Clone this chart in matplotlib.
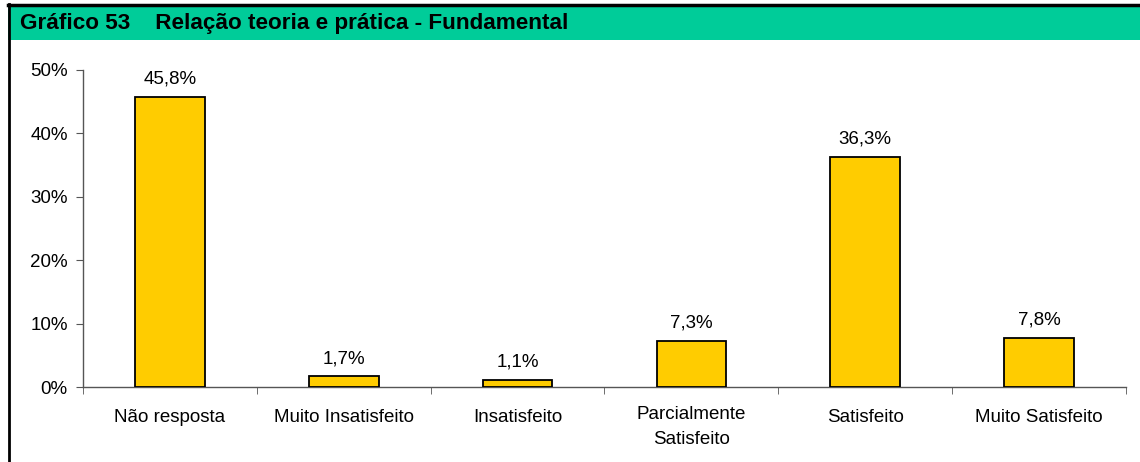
import matplotlib
matplotlib.use("Agg")
import matplotlib.pyplot as plt
import matplotlib.transforms as mtransforms
from matplotlib.patches import Rectangle
from matplotlib.lines import Line2D

categories = ["Não resposta", "Muito Insatisfeito", "Insatisfeito",
              "Parcialmente\nSatisfeito", "Satisfeito", "Muito Satisfeito"]
values = [45.8, 1.7, 1.1, 7.3, 36.3, 7.8]
labels = ["45,8%", "1,7%", "1,1%", "7,3%", "36,3%", "7,8%"]
yticks = [0, 10, 20, 30, 40, 50]
title = "Gráfico 53    Relação teoria e prática - Fundamental"

plt.rcParams['font.family'] = ['Liberation Sans', 'DejaVu Sans']
W, H = 1140, 462
fig = plt.figure(figsize=(W / 100, H / 100), dpi=100)

# header band
fig.patches.append(Rectangle((8 / W, 1 - 40 / H), 1 - 8 / W, 34 / H,
                             transform=fig.transFigure, facecolor="#00CC99",
                             edgecolor="none", zorder=0))
fig.lines.append(Line2D([8 / W, 1], [1 - 5 / H, 1 - 5 / H], transform=fig.transFigure,
                        color="black", lw=2.5))
fig.lines.append(Line2D([8.5 / W, 8.5 / W], [0, 1 - 4 / H], transform=fig.transFigure,
                        color="black", lw=2))
fig.text(20 / W, 1 - 24 / H, title, fontsize=16.2, fontweight="bold",
         va="center", ha="left", color="black")

ax = fig.add_axes([83 / W, 1 - 387 / H, (1126 - 83) / W, (387 - 70) / H])
x = list(range(len(categories)))
ax.bar(x, values, width=0.4, color="#FFCC00", edgecolor="black", linewidth=1.3, zorder=3)
for xi, v, lab in zip(x, values, labels):
    ax.annotate(lab, (xi, v), xytext=(0, 6.5), textcoords="offset points",
                ha="center", va="bottom", fontsize=13.5)
ax.set_xlim(-0.5, len(categories) - 0.5)
ax.set_ylim(0, 50)
ax.set_yticks(yticks)
ax.set_yticklabels([f"{t}%" for t in yticks], fontsize=13.5)
ax.set_xticks(x)
ax.set_xticklabels(categories, fontsize=13.5, linespacing=1.6)
ax.tick_params(axis="x", length=0, pad=16)
ax.set_xticks([i - 0.5 for i in range(len(categories) + 1)], minor=True)
ax.tick_params(axis="x", which="minor", length=5, direction="out", color="#555555")
ax.tick_params(axis="y", length=5, direction="out", color="#555555", pad=6)
for s in ["top", "right"]:
    ax.spines[s].set_visible(False)
for s in ["left", "bottom"]:
    ax.spines[s].set_color("#555555")
    ax.spines[s].set_linewidth(1)

# two-line labels sit slightly higher, as in the reference
for lbl in ax.get_xticklabels():
    if "\n" in lbl.get_text():
        lbl.set_transform(lbl.get_transform() +
                          mtransforms.ScaledTranslation(0, 3 / 100, fig.dpi_scale_trans))

fig.savefig("out.png", dpi=100)
